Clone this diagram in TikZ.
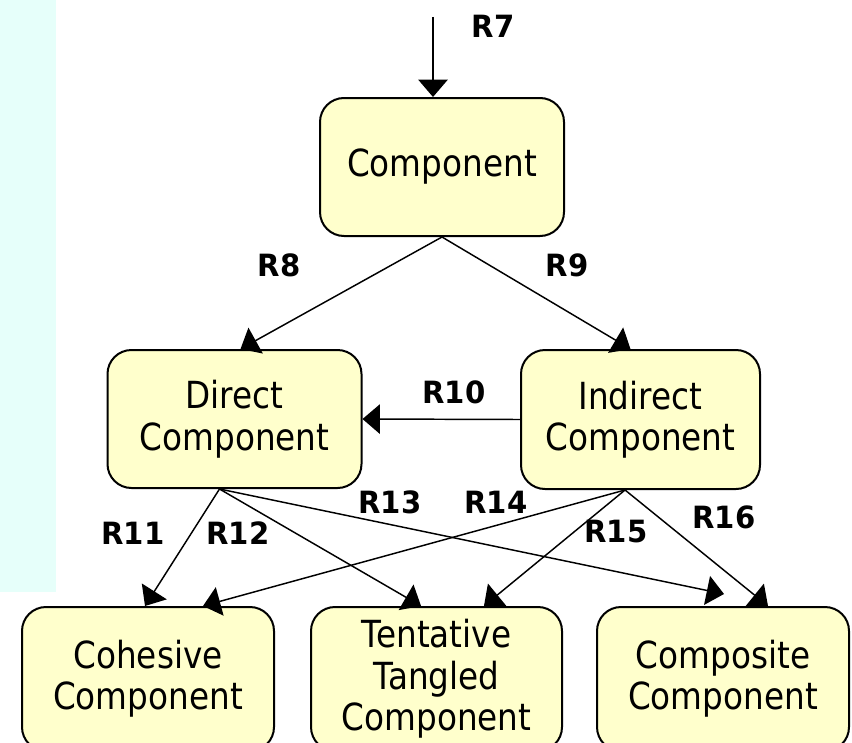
\documentclass[tikz,border=0pt]{standalone}
\usepackage{fontspec}
\setmainfont{DejaVu Sans}[FakeStretch=0.875]
\newfontfamily\lblfont{DejaVu Sans}[FakeStretch=0.95]
\usetikzlibrary{arrows.meta}
\definecolor{boxfill}{RGB}{255,255,204}
\definecolor{sidebg}{RGB}{230,255,250}
\begin{document}
\begin{tikzpicture}[x=0.75pt,y=-0.75pt,
  box/.style={draw=black, line width=1.5pt, fill=boxfill, rounded corners=18pt,
    align=center, inner sep=0pt, font=\fontsize{28pt}{31pt}\selectfont},
  bigbox/.style={box, minimum width=189pt, minimum height=108pt},
  conn/.style={line width=1.1pt, -{Triangle[length=13pt,width=22pt]}},
  lbl/.style={font=\lblfont\bfseries\fontsize{23pt}{26pt}\selectfont, inner sep=0pt}]
\useasboundingbox (0,0) rectangle (852,742);
\clip (0,0) rectangle (852,742);
\fill[sidebg] (0,0) rectangle (56,592);

\node[box, minimum width=183pt, minimum height=103.5pt] (comp) at (442,167) {Component};
\node[box, minimum width=190.5pt, minimum height=103.5pt] (direct) at (234.5,419) {\strut Direct\\Component};
\node[box, minimum width=179.25pt, minimum height=104.25pt] (indirect) at (640.5,419.5) {\strut Indirect\\Component};
\node[bigbox] (cohesive) at (148,679) {Cohesive\\Component};
\node[bigbox, minimum width=188.25pt] (tentative) at (436.5,679) {Tentative\\Tangled\\Component};
\node[bigbox] (composite) at (723,679) {Composite\\Component};

\coordinate (r7s) at (433,17);
\coordinate (ds) at ([xshift=-11.25pt]direct.south);
\coordinate (is) at ([xshift=-11.6pt]indirect.south);

\draw[conn] (r7s) -- ([xshift=-6.75pt]comp.north);
\draw[conn] (comp.south) -- ([xshift=4.5pt]direct.north);
\draw[conn] (comp.south) -- ([xshift=-7.5pt]indirect.north);
\draw[conn] (indirect.west) -- (direct.east);
\draw[conn] (ds) -- ([xshift=-2.25pt]cohesive.north);
\draw[conn] (ds) -- ([xshift=-11.6pt]tentative.north);
\draw[conn] (ds) -- ([xshift=0.75pt,yshift=9pt]composite.north);
\draw[conn] (is) -- ([xshift=41.25pt]cohesive.north);
\draw[conn] (is) -- ([xshift=35.6pt]tentative.north);
\draw[conn] (is) -- ([xshift=33.75pt]composite.north);

\node[lbl] (l7) at (493,26) {R7};
\node[lbl] (l8) at (279,265) {R8};
\node[lbl] (l9) at (567,265) {R9};
\node[lbl] (l10) at (454,392) {R10};
\node[lbl] (l11) at (133,533) {R11};
\node[lbl] (l12) at (238,533) {R12};
\node[lbl] (l13) at (390,502) {R13};
\node[lbl] (l14) at (496,502) {R14};
\node[lbl] (l15) at (616,532) {R15};
\node[lbl] (l16) at (724,517) {R16};
\end{tikzpicture}
\end{document}
